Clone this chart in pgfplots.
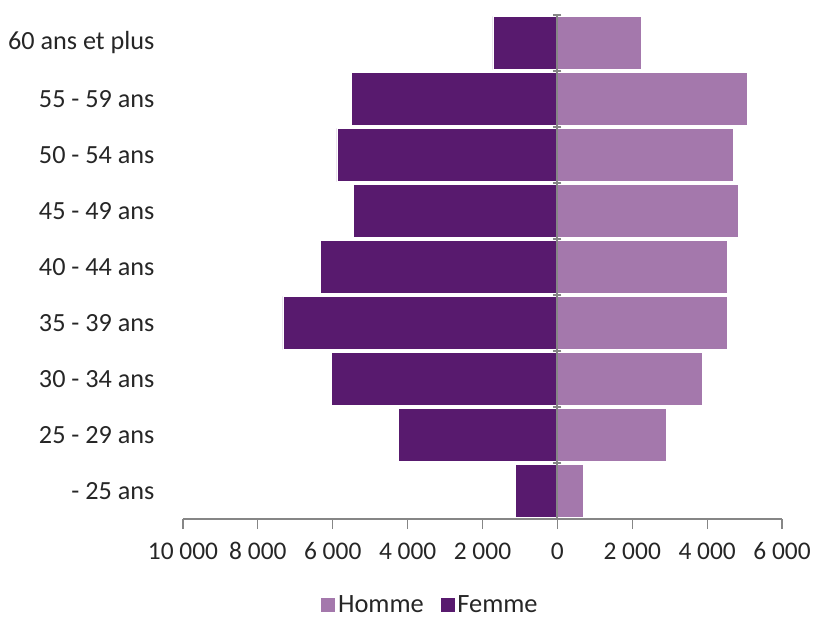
\documentclass[border=0pt]{standalone}
\usepackage{fontspec}
\setmainfont{Carlito}
\usepackage{pgfplots}
\pgfplotsset{compat=1.18}
\definecolor{homme}{HTML}{A478AC}
\definecolor{femme}{HTML}{581A6E}
\definecolor{axisgray}{HTML}{868686}
\begin{document}
\begin{tikzpicture}
\begin{axis}[
  scale only axis,
  width=599bp, height=504bp,
  xmin=-10000, xmax=6000,
  ymin=-0.5, ymax=8.5,
  scaled x ticks=false,
  xtick={-10000,-8000,-6000,-4000,-2000,0,2000,4000,6000},
  xticklabels={10~000,8~000,6~000,4~000,2~000,0,2~000,4~000,6~000},
  ytick={0,1,2,3,4,5,6,7,8},
  yticklabels={- 25 ans,25 - 29 ans,30 - 34 ans,35 - 39 ans,40 - 44 ans,45 - 49 ans,50 - 54 ans,55 - 59 ans,60 ans et plus},
  /pgf/number format/assume math mode=true,
  axis x line*=bottom,
  axis y line*=left,
  x axis line style={axisgray, line width=1.2bp, -},
  y axis line style={draw=none},
  xtick style={axisgray, line width=1.2bp},
  ytick style={draw=none},
  tick align=outside,
  major tick length=10bp,
  xticklabel style={font=\fontsize{25.5}{30}\selectfont, text=black!85, yshift=-10bp},
  yticklabel style={font=\fontsize{26.3}{30}\selectfont, text=black!85, xshift=-15bp},
  xbar, bar shift=0pt, bar width=0.95,
  legend style={at={(0.4124,-0.1706)}, anchor=center, draw=none, legend columns=2,
    font=\fontsize{26.5}{28}\selectfont, text=black!85, inner sep=1bp,
    /tikz/every even column/.append style={column sep=14bp}},
  legend image code/.code={\fill[#1] (0bp,-7.5bp) rectangle (15bp,7.5bp);},
  clip=false,
]
\addplot[fill=homme, draw=white, line width=0.6bp] coordinates {
  (690,0) (2920,1) (3880,2) (4540,3) (4540,4) (4830,5) (4690,6) (5080,7) (2240,8)};
\addlegendentry{Homme}
\addplot[fill=femme, draw=white, line width=0.6bp] coordinates {
  (-1130,0) (-4250,1) (-6030,2) (-7330,3) (-6330,4) (-5440,5) (-5890,6) (-5510,7) (-1720,8)};
\addlegendentry{Femme}
\addplot[axisgray, line width=2bp, forget plot, sharp plot, fill=none] coordinates {(0,-0.5) (0,8.5)};
\addplot[axisgray, line width=1.2bp, only marks, mark=-, mark size=4bp, forget plot] coordinates {
  (0,0.5) (0,1.5) (0,2.5) (0,3.5) (0,4.5) (0,5.5) (0,6.5) (0,7.5) (0,8.5)};
\end{axis}
\pgfresetboundingbox
\path (-183bp,-102bp) rectangle (632bp,519bp);
\end{tikzpicture}
\end{document}
